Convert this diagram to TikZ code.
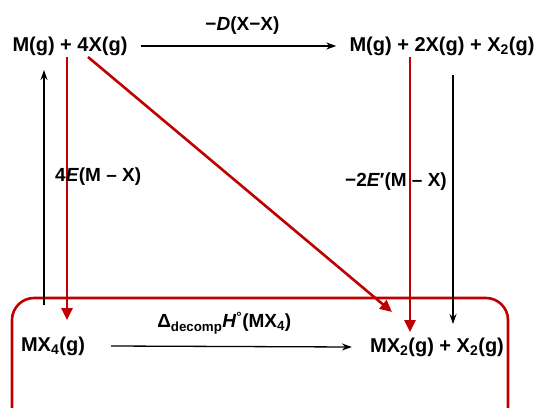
\documentclass[tikz,border=0pt]{standalone}
\usepackage{fontspec}
\setmainfont{Liberation Sans}
\usetikzlibrary{arrows.meta}
\definecolor{darkred}{RGB}{192,0,0}
\begin{document}
\begin{tikzpicture}[x=1pt,y=-1pt,
  chem/.style={font=\fontsize{20}{24}\selectfont\bfseries, inner sep=0pt},
  lbl/.style={font=\fontsize{19}{22}\selectfont\bfseries, inner sep=0pt},
  blk/.style={line width=1.3pt, -{Stealth[length=10pt,width=7pt]}},
  red/.style={draw=darkred, line width=2.6pt, -{Triangle[length=12pt,width=11pt]}}]
\useasboundingbox (0,0) rectangle (538,407);
\clip (0,0) rectangle (538,407);
\fill[white] (0,0) rectangle (538,407);
% nodes
\node[chem] (tl) at (70,46) {M(g) + 4X(g)};
\node[chem] (tr) at (442,46) {M(g) + 2X(g) + X\textsubscript{2}(g)};
\node[chem] (bl) at (53,346) {MX\textsubscript{4}(g)};
\node[chem] (br) at (437,347) {MX\textsubscript{2}(g) + X\textsubscript{2}(g)};
% box
\draw[darkred, line width=2.6pt, rounded corners=22pt] (12,298) rectangle (508,430);
% coordinates
\coordinate (a1) at (44,305);
\coordinate (a2) at (44,70);
\coordinate (r1) at (67,57);
\coordinate (r2) at (67,320);
\coordinate (d1) at (88,57);
\coordinate (d2) at (392,312);
\coordinate (v1) at (410,57);
\coordinate (v2) at (410,332);
\coordinate (b1) at (453,75);
\coordinate (b2) at (453,324);
% horizontal arrows
\draw[blk] ([xshift=13pt]tl.east) -- ([xshift=-13pt]tr.west) node[lbl, pos=0.52, above=11pt] {\mbox{−\textit{D}(X−X)}};
\draw[blk] ([xshift=26pt]bl.east) -- ([xshift=-18pt]br.west) node[lbl, pos=0.47, above=12pt] {\mbox{Δ\textsubscript{decomp}\textit{H}\textsuperscript{°}(MX\textsubscript{4})}};
% vertical
\draw[blk] (a1) -- (a2);
\draw[blk] (b1) -- (b2);
\draw[red] (r1) -- (r2);
\draw[red] (d1) -- (d2);
\draw[red] (v1) -- (v2);
% labels
\node[lbl, anchor=west] (l1) at (55,177) {4\textit{E}(M – X)};
\node[lbl, anchor=east] (l2) at (447,182) {−2\textit{E}′(M – X)};
\end{tikzpicture}
\end{document}
